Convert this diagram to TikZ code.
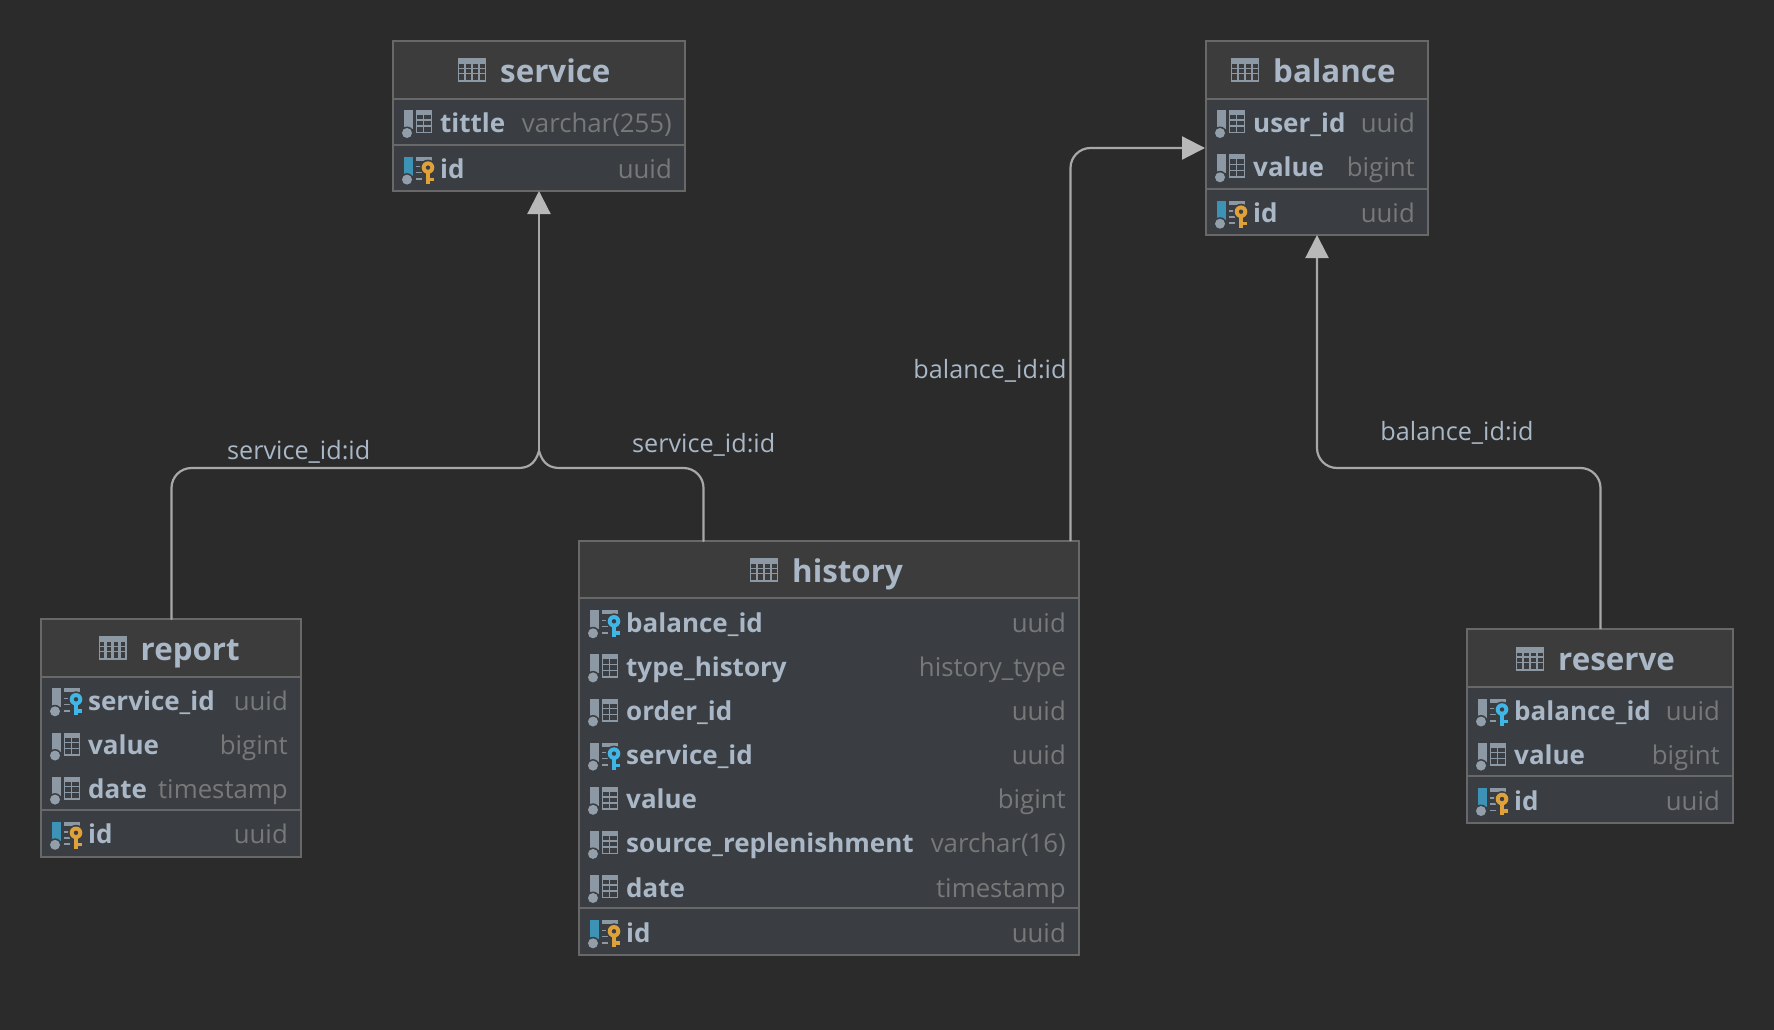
\documentclass[tikz,border=0pt]{standalone}
\usepackage{fontspec}
\setmainfont{Open Sans}
\usetikzlibrary{arrows.meta,calc}
\definecolor{bgc}{HTML}{2B2B2B}
\definecolor{headc}{HTML}{3C3C3C}
\definecolor{rowc}{HTML}{3A3E42}
\definecolor{edgec}{HTML}{686868}
\definecolor{textc}{HTML}{A9B7C6}
\definecolor{typec}{HTML}{787878}
\definecolor{linec}{HTML}{A8A8A8}
\definecolor{tipc}{HTML}{B8B8B8}
\definecolor{greyic}{HTML}{8C99A4}
\definecolor{blueic}{HTML}{3C93B6}
\definecolor{fkc}{HTML}{3FB6E6}
\definecolor{pkc}{HTML}{DFA23B}
\tikzset{
  tablebox/.style={draw=edgec,line width=2pt,fill=headc,inner sep=0pt,outer sep=0pt},
  sepline/.style={draw=edgec,line width=2pt},
  titletxt/.style={text=textc,font=\fontsize{31.3}{32}\selectfont\bfseries,anchor=base west,inner sep=0pt},
  nametxt/.style={text=textc,font=\fontsize{26}{26}\selectfont\bfseries,anchor=base west,inner sep=0pt},
  typetxt/.style={text=typec,font=\fontsize{25.8}{26}\selectfont,anchor=base east,inner sep=0pt},
  labeltxt/.style={text=textc,font=\fontsize{25.2}{25}\selectfont,anchor=center,inner sep=0pt},
  conn/.style={draw=linec,line width=2.2pt,line cap=round,rounded corners=20pt},
  mergecurve/.style={draw=linec,line width=2.2pt,line cap=round},
  connarrow/.style={draw=linec,line width=2.2pt,rounded corners=20pt,-{Triangle[length=23pt,width=23pt,fill=tipc,color=tipc]}},
  glyph/.style={draw=greyic,line width=1.6pt},
}
\newcommand{\dbtable}[7]{% id L T R B H title
  \node[tablebox,minimum width={(#4-#2)*1pt},minimum height={(#5-#3)*1pt}] (#1) at ({(#2+#4)/2},{(#3+#5)/2}) {};
  \fill[rowc] (#2+1,#6) rectangle (#4-1,#5-1);
  \draw[sepline] (#2,#6) -- (#4,#6);
}
\newcommand{\titleicon}[2]{% x, ycenter
  \begin{scope}[shift={(#1,#2)}]
    \fill[greyic] (0,-12) rectangle (28,12);
    \foreach \a in {0,7,14,21}{\fill[headc] (\a+1.3,-6) rectangle (\a+5.7,-2.2);
      \fill[headc] (\a+1.3,-0.8) rectangle (\a+5.7,3);
      \fill[headc] (\a+1.3,4.4) rectangle (\a+5.7,10);}
  \end{scope}}
\newcommand{\baricon}[1]{%
  \fill[#1] (11,-12) rectangle (20,7);
  \fill[rowc] (14,11) circle (6.5);
  \fill[greyic!95!white] (14,11) circle (5);}
\newcommand{\iconplain}{%
  \baricon{greyic}
  \fill[greyic] (23,-12) rectangle (39,-7);
  \draw[glyph] (23.6,-7) -- (23.6,11) (30.5,-7) -- (30.5,11) (38.4,-7) -- (38.4,11)
     (23,-2) -- (39,-2) (23,4) -- (39,4) (23,10.4) -- (39,10.4);}
\newcommand{\iconkey}[2]{%
  \baricon{#1}
  \fill[greyic] (23,-12) rectangle (39,-8);
  \draw[glyph] (23,-2) -- (29,-2) (23,4) -- (29,4) (23,10.4) -- (29,10.4);
  \fill[rowc] (35,-1) circle (8);
  \fill[#2] (35,-1) circle (6.3);
  \fill[rowc] (35,-1) circle (2.2);
  \fill[#2] (33,3) rectangle (37,15);
  \fill[#2] (37,9) rectangle (41,12.5);}
\newcommand{\iconfk}{\iconkey{greyic}{fkc}}
\newcommand{\iconpk}{\iconkey{blueic}{pkc}}
\newcommand{\colrow}[7]{% id L R C icon name type
  \begin{scope}[shift={(#2,#4)}]#5\end{scope}
  \node[nametxt] (#1n) at (#2+47,#4+10) {#6};
  \node[typetxt] (#1t) at (#3-13,#4+10) {#7};
}
\begin{document}
\begin{tikzpicture}[x=1pt,y=-1pt]
\useasboundingbox (0,0) rectangle (1774,1030);
\fill[bgc] (0,0) rectangle (1774,1030);

% service
\dbtable{service}{393}{41}{685}{191}{99}{}
\draw[sepline] (393,145) -- (685,145);
\titleicon{458}{70}
\node[titletxt] (servicetitle) at (500,82.5) {service};
\colrow{s1}{393}{685}{122}{\iconplain}{tittle}{varchar(255)}
\colrow{s2}{393}{685}{168.6}{\iconpk}{id}{uuid}

% balance
\dbtable{balance}{1206}{41}{1428}{235}{99}{}
\draw[sepline] (1206,189) -- (1428,189);
\titleicon{1231}{70}
\node[titletxt] (balancetitle) at (1273,82.5) {balance};
\colrow{b1}{1206}{1428}{122}{\iconplain}{user\_id}{uuid}
\colrow{b2}{1206}{1428}{166.3}{\iconplain}{value}{bigint}
\colrow{b3}{1206}{1428}{212.7}{\iconpk}{id}{uuid}

% history
\dbtable{history}{579}{541}{1079}{955}{598}{}
\draw[sepline] (579,908) -- (1079,908);
\titleicon{750}{570}
\node[titletxt] (historytitle) at (792,582.5) {history};
\colrow{h1}{579}{1079}{622.3}{\iconfk}{balance\_id}{uuid}
\colrow{h2}{579}{1079}{666.4}{\iconplain}{type\_history}{history\_type}
\colrow{h3}{579}{1079}{710.5}{\iconplain}{order\_id}{uuid}
\colrow{h4}{579}{1079}{754.6}{\iconfk}{service\_id}{uuid}
\colrow{h5}{579}{1079}{798.8}{\iconplain}{value}{bigint}
\colrow{h6}{579}{1079}{842.9}{\iconplain}{source\_replenishment}{varchar(16)}
\colrow{h7}{579}{1079}{887}{\iconplain}{date}{timestamp}
\colrow{h8}{579}{1079}{932.3}{\iconpk}{id}{uuid}

% report
\dbtable{report}{41}{619}{301}{856.5}{677}{}
\draw[sepline] (41,810) -- (301,810);
\titleicon{98.5}{648}
\node[titletxt] (reporttitle) at (140.5,660.5) {report};
\colrow{r1}{41}{301}{700.3}{\iconfk}{service\_id}{uuid}
\colrow{r2}{41}{301}{744.5}{\iconplain}{value}{bigint}
\colrow{r3}{41}{301}{788.6}{\iconplain}{date}{timestamp}
\colrow{r4}{41}{301}{833.8}{\iconpk}{id}{uuid}

% reserve
\dbtable{reserve}{1467}{629}{1733}{823}{687}{}
\draw[sepline] (1467,776) -- (1733,776);
\titleicon{1516}{658.5}
\node[titletxt] (reservetitle) at (1558,670.5) {reserve};
\colrow{v1}{1467}{1733}{710.5}{\iconfk}{balance\_id}{uuid}
\colrow{v2}{1467}{1733}{754.6}{\iconplain}{value}{bigint}
\colrow{v3}{1467}{1733}{800}{\iconpk}{id}{uuid}

% connectors
\coordinate (hs) at (703.5,541);
\coordinate (hb) at (1070.5,541);
\coordinate (bw) at (1205,148);
\coordinate (rj) at (171.5,468);
\coordinate (vj) at (1600.5,468);
\coordinate (tj) at (539,451);
\coordinate (lm) at (518,468);
\coordinate (rm) at (560,468);
\draw[conn] (report.north -| rj) -- (rj) -- (lm);
\draw[mergecurve] (lm) .. controls (527,468) and (535,465) .. (tj);
\draw[conn] (hs) -- (703.5,468) -- (rm);
\draw[mergecurve] (rm) .. controls (551,468) and (543,465) .. (tj);
\draw[connarrow] (tj) -- (service.south);
\draw[connarrow] (hb) -- (1070.5,148) -- (bw);
\draw[connarrow] (reserve.north -| vj) -- (vj) -- (1317,468) -- (balance.south);

% connector labels
\node[labeltxt] (l1) at (298.7,451.5) {service\_id:id};
\node[labeltxt] (l2) at (703.7,445) {service\_id:id};
\node[labeltxt] (l3) at (990,370.5) {balance\_id:id};
\node[labeltxt] (l4) at (1457,432.5) {balance\_id:id};
\end{tikzpicture}
\end{document}
